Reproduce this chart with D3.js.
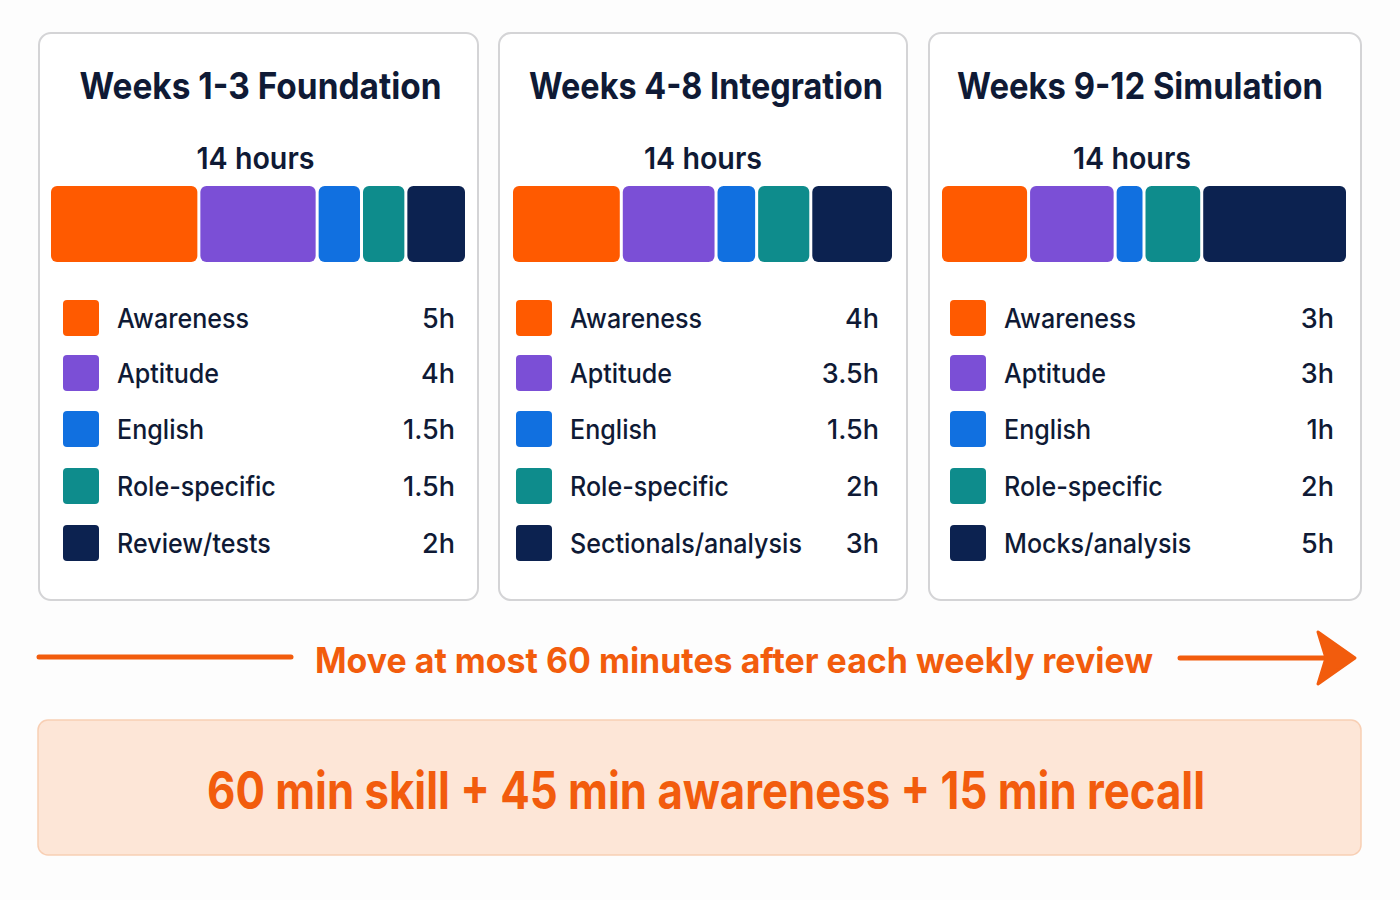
<!DOCTYPE html>
<html>
<head>
<meta charset="utf-8">
<script src="https://cdn.jsdelivr.net/npm/d3@7/dist/d3.min.js"></script>
<style>
  html, body { margin: 0; padding: 0; background: #fdfdfd; }
  svg { display: block; font-family: Inter, "Noto Sans", Roboto, sans-serif; }
</style>
</head>
<body>
<svg id="chart" width="1400" height="900"></svg>
<script>
// data
const phaseTitles = ["Weeks 1-3 Foundation", "Weeks 4-8 Integration", "Weeks 9-12 Simulation"];
const phaseTotals = [14, 14, 14];
const categories = ["Awareness", "Aptitude", "English", "Role-specific"];
const lastCategory = ["Review/tests", "Sectionals/analysis", "Mocks/analysis"];
const foundationHours = [5, 4, 1.5, 1.5, 2];
const integrationHours = [4, 3.5, 1.5, 2, 3];
const simulationHours = [3, 3, 1, 2, 5];
const colors = ["#ff5a00", "#7b4fd6", "#1170e0", "#0e8c8c", "#0c2250"];
const arrowText = "Move at most 60 minutes after each weekly review";
const formulaText = "60 min skill + 45 min awareness + 15 min recall";

const phaseHours = [foundationHours, integrationHours, simulationHours];

// layout
const cardX = [39, 499, 929];
const cardW = [439, 408, 432];
const cardY = 33, cardH = 567;
const barPadL = [12, 14, 13], barPadR = [13, 15, 15];
const swatchOff = [24, 17, 21];
const valueOff = [23, 28, 27];
const titleW = [362, 354, 366];
const titleShift = [2, 3, -5];
const hoursShift = [-3, 0, -13];
const rowY = [318, 373, 429, 486, 543];
const ink = "#0f1a35";
const orange = "#f25c0d";

const svg = d3.select("#chart");

function fmtHours(v) { return (Number.isInteger(v) ? v : v.toFixed(1)) + "h"; }

phaseTitles.forEach((title, i) => {
  const g = svg.append("g");
  const x0 = cardX[i], w = cardW[i];
  const cx = x0 + w / 2;

  g.append("rect")
    .attr("x", x0).attr("y", cardY)
    .attr("width", w).attr("height", cardH)
    .attr("rx", 12)
    .attr("fill", "#ffffff")
    .attr("stroke", "#d4d4d6")
    .attr("stroke-width", 2);

  g.append("text")
    .attr("x", cx + titleShift[i]).attr("y", 99)
    .attr("text-anchor", "middle")
    .attr("font-size", 37).attr("font-weight", 700)
    .attr("fill", ink)
    .attr("textLength", titleW[i]).attr("lengthAdjust", "spacingAndGlyphs")
    .text(title);

  g.append("text")
    .attr("x", cx + hoursShift[i]).attr("y", 169)
    .attr("text-anchor", "middle")
    .attr("font-size", 30).attr("font-weight", 600)
    .attr("fill", ink)
    .attr("textLength", 118).attr("lengthAdjust", "spacingAndGlyphs")
    .text(phaseTotals[i] + " hours");

  const hours = phaseHours[i];
  const cum = d3.cumsum(hours);
  const x = d3.scaleLinear()
    .domain([0, phaseTotals[i]])
    .range([x0 + barPadL[i], x0 + w - barPadR[i]]);

  g.selectAll("rect.seg")
    .data(hours)
    .join("rect")
    .attr("class", "seg")
    .attr("x", (d, j) => x(cum[j] - d) + (j === 0 ? 0 : 1.5))
    .attr("y", 186)
    .attr("width", (d, j) => x(cum[j]) - x(cum[j] - d) - (j === 0 ? 1.5 : 3) + (j === hours.length - 1 ? 1.5 : 0))
    .attr("height", 76)
    .attr("rx", 6)
    .attr("fill", (d, j) => colors[j]);

  const labels = categories.concat([lastCategory[i]]);
  const rows = g.selectAll("g.row")
    .data(hours)
    .join("g")
    .attr("class", "row")
    .attr("transform", (d, j) => `translate(0,${rowY[j]})`);

  rows.append("rect")
    .attr("x", x0 + swatchOff[i]).attr("y", -18)
    .attr("width", 36).attr("height", 36)
    .attr("rx", 4)
    .attr("fill", (d, j) => colors[j]);

  rows.append("text")
    .attr("x", x0 + swatchOff[i] + 54).attr("y", 10)
    .attr("font-size", 27).attr("font-weight", 500)
    .attr("fill", ink)
    .text((d, j) => labels[j])
    .each(function() {
      // reference face is a bit narrower
      const len = this.getComputedTextLength();
      d3.select(this).attr("textLength", len * 0.93).attr("lengthAdjust", "spacingAndGlyphs");
    });

  rows.append("text")
    .attr("x", x0 + w - valueOff[i]).attr("y", 10)
    .attr("text-anchor", "end")
    .attr("font-size", 27).attr("font-weight", 500)
    .attr("fill", ink)
    .text(d => fmtHours(d));
});

// arrow row
svg.append("line")
  .attr("x1", 39).attr("x2", 291)
  .attr("y1", 657).attr("y2", 657)
  .attr("stroke", orange).attr("stroke-width", 5)
  .attr("stroke-linecap", "round");

svg.append("text")
  .attr("x", 734).attr("y", 673)
  .attr("text-anchor", "middle")
  .attr("font-size", 35).attr("font-weight", 700)
  .attr("fill", orange)
  .attr("textLength", 838).attr("lengthAdjust", "spacingAndGlyphs")
  .text(arrowText);

svg.append("line")
  .attr("x1", 1180).attr("x2", 1330)
  .attr("y1", 658).attr("y2", 658)
  .attr("stroke", orange).attr("stroke-width", 5)
  .attr("stroke-linecap", "round");

svg.append("path")
  .attr("d", "M1318,632 L1355,658 L1318,684 L1326,658 Z")
  .attr("fill", orange)
  .attr("stroke", orange)
  .attr("stroke-width", 3)
  .attr("stroke-linejoin", "round");

// formula box
svg.append("rect")
  .attr("x", 38).attr("y", 720)
  .attr("width", 1323).attr("height", 135)
  .attr("rx", 10)
  .attr("fill", "#fde6d7")
  .attr("stroke", "#f8cfb4")
  .attr("stroke-width", 1.5);

svg.append("text")
  .attr("x", 706).attr("y", 809)
  .attr("text-anchor", "middle")
  .attr("font-size", 52).attr("font-weight", 700)
  .attr("fill", orange)
  .attr("textLength", 998).attr("lengthAdjust", "spacingAndGlyphs")
  .text(formulaText);
</script>
</body>
</html>
